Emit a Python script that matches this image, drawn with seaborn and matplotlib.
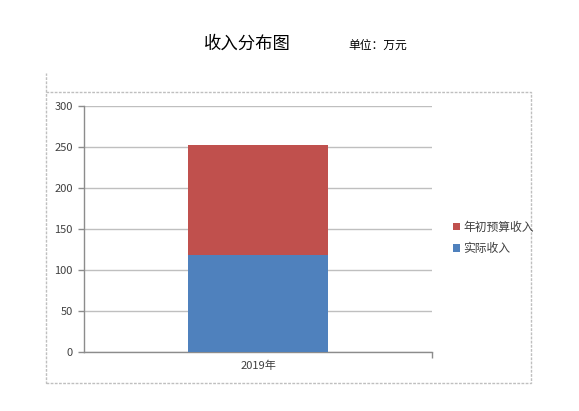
import matplotlib
matplotlib.use("Agg")
import matplotlib.pyplot as plt
import seaborn as sns
import pandas as pd
from matplotlib.patches import Rectangle, Patch
from matplotlib.lines import Line2D

categories = ["2019年"]
actual_income = [118]
budget_income = [134]
series_names = ["年初预算收入", "实际收入"]
yticks = [0, 50, 100, 150, 200, 250, 300]

sns.set_theme(style="white")
plt.rcParams['font.family'] = ['Noto Sans CJK SC', 'DejaVu Sans']

blue = "#4F81BD"
red = "#C0504D"
grid_c = "#BFBFBF"
axis_c = "#8C8C8C"

df = pd.DataFrame({
    "cat": categories,
    "actual": actual_income,
    "total": [a + b for a, b in zip(actual_income, budget_income)],
})

fig = plt.figure(figsize=(5.79, 4.11), dpi=100)
ax = fig.add_axes([84/579, 1-352/411, (432-84)/579, (352-106)/411])

sns.barplot(data=df, x="cat", y="total", color=red, width=0.4, ax=ax, saturation=1,
            zorder=3, linewidth=0)
sns.barplot(data=df, x="cat", y="actual", color=blue, width=0.4, ax=ax, saturation=1,
            zorder=3, linewidth=0)

ax.set_xlim(-0.5, 0.5)
ax.set_ylim(0, 300)
ax.set_yticks(yticks)
ax.set_xlabel("")
ax.set_ylabel("")
ax.yaxis.grid(True, color=grid_c, linewidth=1, zorder=0)
ax.set_axisbelow(True)
for s in ["top", "right"]:
    ax.spines[s].set_visible(False)
for s in ["left", "bottom"]:
    ax.spines[s].set_color(axis_c)
    ax.spines[s].set_linewidth(1)

ax.tick_params(axis="y", direction="out", length=4, width=1, color=axis_c,
               labelsize=8, labelcolor="#404040", pad=4, left=True)
ax.tick_params(axis="x", which="major", length=0, labelsize=8, labelcolor="#404040", pad=6)
ax.set_xticks([0.5], minor=True)
ax.tick_params(axis="x", which="minor", direction="out", length=4, width=1, color=axis_c, bottom=True)

handles = [Patch(facecolor=red, edgecolor="none"), Patch(facecolor=blue, edgecolor="none")]
fig.legend(handles, series_names, loc="upper left", bbox_to_anchor=(447/579, 1-215/411),
           frameon=False, fontsize=8.5, handlelength=0.6, handleheight=0.6,
           handletextpad=0.25, labelspacing=0.7, borderpad=0, labelcolor="#404040")

fig.text(247/579, 1-44/411, "收入分布图", ha="center", va="center", fontsize=12.5, color="#000000")
fig.text(378/579, 1-45/411, "单位：万元", ha="center", va="center", fontsize=8.5,
         color="#000000")

fig.patches.append(Rectangle((46/579, 1-383/411), (531-46)/579, (383-92)/411,
                             transform=fig.transFigure, fill=False, edgecolor=grid_c,
                             linestyle=(0, (2, 1)), linewidth=1))
fig.lines.append(Line2D([46/579, 46/579], [1-92/411, 1-73/411], transform=fig.transFigure,
                        color=grid_c, linestyle=(0, (2, 1)), linewidth=1))

fig.savefig("out.png", dpi=100)
